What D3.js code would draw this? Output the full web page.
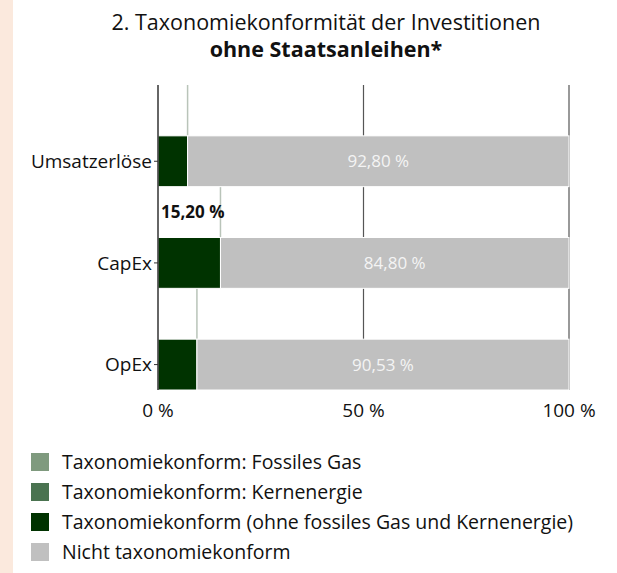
<!DOCTYPE html>
<html lang="de">
<head>
  <meta charset="UTF-8">
  <title>Taxonomiekonformität</title>
  <script src="https://d3js.org/d3.v7.min.js" charset="utf-8"></script>
  <style>
    body { margin: 0; background: #fff; }
    svg text { font-family: "Open Sans", "Noto Sans", sans-serif; }
  </style>
</head>
<body>
  <svg width="617" height="573"></svg>
  <script>
    // Daten
    const categories = ["Umsatzerlöse", "CapEx", "OpEx"]
    const gasValues = [0, 0, 0]
    const nuclearValues = [0, 0, 0]
    const alignedValues = [7.20, 15.20, 9.47]
    const notAlignedValues = [92.80, 84.80, 90.53]
    const xTicks = [0, 50, 100]
    const legendLabels = [
      "Taxonomiekonform: Fossiles Gas",
      "Taxonomiekonform: Kernenergie",
      "Taxonomiekonform (ohne fossiles Gas und Kernenergie)",
      "Nicht taxonomiekonform"
    ]
    const legendColors = ["#7f9a7e", "#4a7350", "#003300", "#c0c0c0"]

    const svg = d3.select("svg")
    const fmt = v => d3.format(".2f")(v).replace(".", ",") + " %"

    // linker Farbstreifen
    svg.append("rect").attr("x", 0).attr("y", 0).attr("width", 13).attr("height", 573).attr("fill", "#fbe9dd")

    // Titel
    const title = svg.append("text").attr("text-anchor", "middle").attr("font-size", 21.5).attr("fill", "#111")
    title.append("tspan").attr("x", 326).attr("y", 30).text("2. Taxonomiekonformität der Investitionen")
    title.append("tspan").attr("x", 326).attr("y", 57).attr("font-weight", "bold").text("ohne Staatsanleihen*")

    const x = d3.scaleLinear().domain([0, 100]).range([158, 569])
    const y = d3.scaleBand().domain(categories).range([85, 390]).padding(0)
    const half = y.bandwidth() / 2

    // Gitterlinien
    svg.append("g").selectAll("line")
      .data(xTicks.filter(d => d > 0))
      .join("line")
      .attr("x1", d => x(d)).attr("x2", d => x(d))
      .attr("y1", 85).attr("y2", 390)
      .attr("stroke", "#555").attr("stroke-width", 1.2)

    const rows = categories.map((c, i) => ({
      cat: c,
      gas: gasValues[i],
      nuc: nuclearValues[i],
      aligned: alignedValues[i],
      rest: notAlignedValues[i]
    }))

    // Hilfslinien oberhalb der Balken
    svg.append("g").selectAll("line")
      .data(rows)
      .join("line")
      .attr("x1", d => x(d.gas + d.nuc + d.aligned)).attr("x2", d => x(d.gas + d.nuc + d.aligned))
      .attr("y1", d => y(d.cat)).attr("y2", d => y(d.cat) + half)
      .attr("stroke", "#b9c4b9").attr("stroke-width", 1.5)

    // gestapelte Balken
    const keys = ["gas", "nuc", "aligned", "rest"]
    const stack = d3.stack().keys(keys)(rows)
    svg.append("g").selectAll("g")
      .data(stack)
      .join("g")
      .attr("fill", (d, i) => legendColors[i])
      .selectAll("rect")
      .data(d => d)
      .join("rect")
      .attr("x", d => x(d[0]))
      .attr("y", d => y(d.data.cat) + half)
      .attr("width", d => x(d[1]) - x(d[0]))
      .attr("height", half)
      .attr("stroke", "#fff").attr("stroke-width", d => d[1] > d[0] ? 1 : 0)

    // Werte im grauen Balken
    svg.append("g").selectAll("text")
      .data(stack[3])
      .join("text")
      .attr("x", d => (x(d[0]) + x(d[1])) / 2)
      .attr("y", d => y(d.data.cat) + half * 1.5)
      .attr("dy", "0.35em")
      .attr("text-anchor", "middle")
      .attr("font-size", 17)
      .attr("fill", "#f4f4f4")
      .text(d => fmt(d[1] - d[0]))

    // Wertbeschriftung der taxonomiekonformen Anteile (nur wenn Platz)
    svg.append("g").selectAll("text")
      .data(rows.filter(d => d.aligned > 10))
      .join("text")
      .attr("x", d => x(d.gas + d.nuc + d.aligned) + 4)
      .attr("y", d => y(d.cat) + half / 2)
      .attr("dy", "0.35em")
      .attr("text-anchor", "end")
      .attr("font-size", 17)
      .attr("font-weight", "bold")
      .attr("fill", "#111")
      .text(d => fmt(d.aligned))

    // y-Achse
    svg.append("line")
      .attr("x1", x(0)).attr("x2", x(0)).attr("y1", 85).attr("y2", 390)
      .attr("stroke", "#333").attr("stroke-width", 1.5)
    svg.append("g").selectAll("line")
      .data(categories)
      .join("line")
      .attr("x1", x(0) - 4).attr("x2", x(0))
      .attr("y1", d => y(d) + half * 1.5).attr("y2", d => y(d) + half * 1.5)
      .attr("stroke", "#333")
    svg.append("g").selectAll("text")
      .data(categories)
      .join("text")
      .attr("x", x(0) - 6)
      .attr("y", d => y(d) + half * 1.5)
      .attr("dy", "0.35em")
      .attr("text-anchor", "end")
      .attr("font-size", 19)
      .attr("fill", "#111")
      .text(d => d)

    // x-Achse Beschriftung
    svg.append("g").selectAll("text")
      .data(xTicks)
      .join("text")
      .attr("x", d => x(d))
      .attr("y", 417)
      .attr("text-anchor", "middle")
      .attr("font-size", 19)
      .attr("fill", "#111")
      .text(d => d + " %")

    // Legende
    const legend = svg.append("g").selectAll("g")
      .data(legendLabels)
      .join("g")
      .attr("transform", (d, i) => "translate(31," + (462 + i * 30) + ")")
    legend.append("rect")
      .attr("x", 0).attr("y", -9).attr("width", 18).attr("height", 18)
      .attr("fill", (d, i) => legendColors[i])
    legend.append("text")
      .attr("x", 31).attr("dy", "0.35em")
      .attr("font-size", 19.5)
      .attr("fill", "#111")
      .text(d => d)
  </script>
</body>
</html>
